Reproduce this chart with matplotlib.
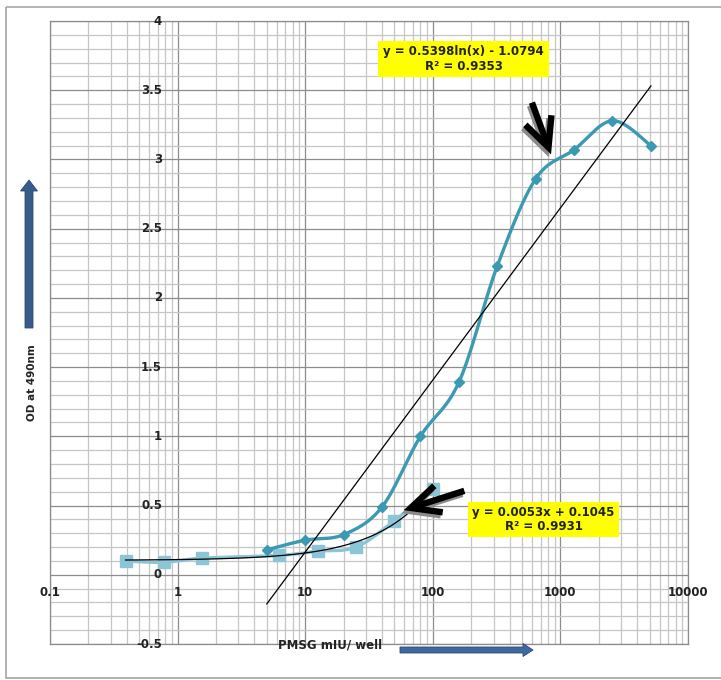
import numpy as np
import matplotlib
matplotlib.use('Agg')
import matplotlib.pyplot as plt
from matplotlib.ticker import LogLocator, MultipleLocator
from matplotlib.patches import FancyArrow, FancyArrowPatch, Rectangle
from matplotlib.transforms import Affine2D

# PMSG dilution series (diamonds) and low-range standards (squares)
dose_high = [5, 10, 20, 40, 80, 160, 320, 640, 1280, 2560, 5120]
od_high = [0.18, 0.25, 0.29, 0.49, 1.00, 1.39, 2.23, 2.86, 3.07, 3.28, 3.10]

dose_low = [0.390625, 0.78125, 1.5625, 6.25, 12.5, 25, 50, 100]
od_low = [0.10, 0.09, 0.12, 0.14, 0.17, 0.20, 0.39, 0.62]

# trendline coefficients
log_a, log_b, log_r2 = 0.5398, -1.0794, 0.9353
lin_a, lin_b, lin_r2 = 0.0053, 0.1045, 0.9931

x_ticks = [0.1, 1, 10, 100, 1000, 10000]
x_tick_labels = ['0.1', '1', '10', '100', '1000', '10000']
y_ticks = [-0.5, 0, 0.5, 1, 1.5, 2, 2.5, 3, 3.5, 4]
y_tick_labels = ['-0.5', '0', '0.5', '1', '1.5', '2', '2.5', '3', '3.5', '4']

W, H = 721, 680
fig = plt.figure(figsize=(W / 100, H / 100), dpi=100)
ax = fig.add_axes([50 / W, 36 / H, 638 / W, 623 / H])
ax.set_xscale('log')
ax.set_xlim(0.1, 10000)
ax.set_ylim(-0.5, 4)

# pixel coords measured from the top-left corner
px = Affine2D().scale(1, -1).translate(0, H)


def smooth(xs, ys, n=30):
    # Excel-like smoothed line, built in screen space (log x)
    pts = ax.transData.transform(np.column_stack([xs, ys]))
    p = np.vstack([pts[0], pts, pts[-1]])
    out = []
    for i in range(1, len(p) - 2):
        p0, p1, p2, p3 = p[i - 1], p[i], p[i + 1], p[i + 2]
        c1 = p1 + (p2 - p0) / 6
        c2 = p2 - (p3 - p1) / 6
        t = np.linspace(0, 1, n)[:, None]
        seg = ((1 - t) ** 3 * p1 + 3 * (1 - t) ** 2 * t * c1
               + 3 * (1 - t) * t ** 2 * c2 + t ** 3 * p2)
        out.append(seg)
    out = np.vstack(out)
    d = ax.transData.inverted().transform(out)
    return d[:, 0], d[:, 1]


# grid
ax.xaxis.set_major_locator(LogLocator(base=10))
ax.xaxis.set_minor_locator(LogLocator(base=10, subs=np.arange(2, 10)))
ax.yaxis.set_major_locator(MultipleLocator(0.5))
ax.yaxis.set_minor_locator(MultipleLocator(0.1))
ax.grid(which='minor', color='#c6c6c6', lw=0.9)
ax.grid(which='major', color='#8c8c8c', lw=0.9)
ax.set_axisbelow(True)
ax.tick_params(which='both', length=0, labelleft=False, labelbottom=False)
for s in ax.spines.values():
    s.set_color('#8c8c8c')
    s.set_linewidth(0.9)

# axes cross at x=1, y=0: labels placed there
for v, lab in zip(y_ticks, y_tick_labels):
    ax.text(0.755, v, lab, ha='right', va='center', fontsize=8.5,
            fontweight='bold', color='#222222')
for v, lab in zip(x_ticks, x_tick_labels):
    ax.text(v, -0.13, lab, ha='center', va='center', fontsize=8.5,
            fontweight='bold', color='#222222')

# squares series
sx, sy = smooth(dose_low, od_low)
ax.plot(sx, sy, color='#8cc6d6', lw=2.4, zorder=3)
ax.plot(dose_low, od_low, 's', color='#8cc6d6', ms=8.5, zorder=3)

# diamonds series
dx, dy = smooth(dose_high, od_high)
ax.plot(dx, dy, color='#3b9ab2', lw=2.4, zorder=4)
ax.plot(dose_high, od_high, 'D', color='#3b9ab2', ms=5.5, zorder=4)

# trendlines
xl = np.geomspace(dose_high[0], dose_high[-1], 200)
ax.plot(xl, log_a * np.log(xl) + log_b, color='black', lw=0.9, zorder=5)
xs = np.geomspace(dose_low[0], dose_low[-1], 200)
ax.plot(xs, lin_a * xs + lin_b, color='black', lw=0.9, zorder=5)

# equation boxes
for (x0, y0, x1, y1), txt in [
        ((378, 41, 549, 77),
         'y = %.4fln(x) - %.4f\nR² = %.4f' % (log_a, -log_b, log_r2)),
        ((468, 502, 619, 537),
         'y = %.4fx + %.4f\nR² = %.4f' % (lin_a, lin_b, lin_r2))]:
    fig.add_artist(Rectangle((x0, y0), x1 - x0, y1 - y0, transform=px,
                             facecolor='#ffff00', edgecolor='none', zorder=6))
    fig.text((x0 + x1) / 2 / W, 1 - (y0 + y1) / 2 / H, txt, ha='center',
             va='center', fontsize=8.5, fontweight='bold', color='#222222',
             linespacing=1.15, zorder=7)

# black pointer arrows with grey shadow
for (tx, ty), (hx, hy) in [((531, 100), (552, 157)),
                           ((467, 490), (401, 511))]:
    for off, col in [((-2, 3), '#8a8a8a'), ((0, 0), 'black')]:
        fig.add_artist(FancyArrowPatch(
            (tx + off[0], ty + off[1]), (hx + off[0], hy + off[1]),
            transform=px, arrowstyle='->,head_length=1.05,head_width=0.5',
            mutation_scale=20, lw=4.6, color=col, capstyle='butt',
            joinstyle='miter', zorder=8))

# blue direction arrows
fig.add_artist(FancyArrow(29, 328, 0, -148, width=8, head_width=17,
                          head_length=11, length_includes_head=True,
                          transform=px, facecolor='#375c8a',
                          edgecolor='#2c4a70', lw=0.6, zorder=6))
fig.add_artist(FancyArrow(400, 650, 133, 0, width=6, head_width=13,
                          head_length=10, length_includes_head=True,
                          transform=px, facecolor='#4068a0',
                          edgecolor='#2c4a70', lw=0.6, zorder=6))

# axis titles
fig.text(32 / W, 1 - 383 / H, 'OD at 490nm', rotation=90, ha='center',
         va='center', fontsize=7.5, fontweight='bold', color='#222222')
fig.text(330 / W, 1 - 645 / H, 'PMSG mIU/ well', ha='center', va='center',
         fontsize=8.5, fontweight='bold', color='#222222')

# outer chart frame
fig.add_artist(Rectangle((5.5, 6.5), 730, 671.5, transform=px,
                         facecolor='none', edgecolor='#a6a6a6', lw=1.2,
                         zorder=1))

plt.savefig('out.png', dpi=100)
